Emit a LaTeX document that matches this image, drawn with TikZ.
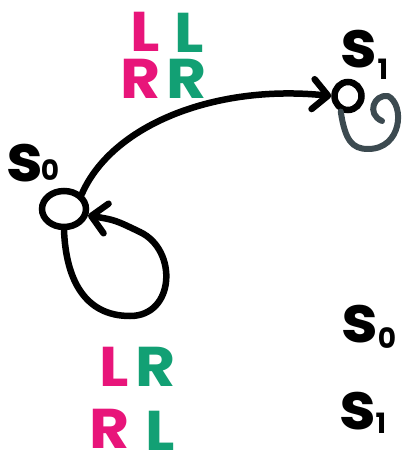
\documentclass[tikz,border=0pt]{standalone}
\usepackage{fontspec}
\setmainfont{Poppins}
\usetikzlibrary{arrows.meta,shapes.geometric}
\definecolor{pinkmk}{HTML}{E8157A}
\definecolor{greenmk}{HTML}{12A074}
\definecolor{greyink}{HTML}{3C4A50}
\begin{document}
\begin{tikzpicture}[x=1pt,y=-1pt,
  ink/.style={line width=6.5pt, line cap=round, line join=round, black},
  barb/.style={-{Straight Barb[length=15pt,width=30pt,round]}},
  letter/.style={font=\fontsize{56}{56}\selectfont\bfseries, inner sep=0pt, xscale=1.1},
  lab/.style={font=\fontsize{66}{66}\selectfont\bfseries, inner sep=0pt},
  sub/.style={font=\fontsize{28}{28}\selectfont\bfseries, inner sep=0pt},
  state/.style={draw, ellipse, line width=6.5pt, inner sep=0pt}]
\useasboundingbox (0,0) rectangle (402,465);
\fill[white] (0,0) rectangle (402,465);

% input pairs on the s0 -> s1 transition
\node[letter, pinkmk]  (tl1) at (145,32) {L};
\node[letter, greenmk] (tl2) at (189,33) {L};
\node[letter, pinkmk]  (tr1) at (141,79) {R};
\node[letter, greenmk] (tr2) at (187,79) {R};

% input pairs on the s0 self-loop
\node[letter, pinkmk]  (bl1) at (114,367) {L};
\node[letter, greenmk] (bl2) at (156,367) {R};
\node[letter, pinkmk]  (br1) at (110,429) {R};
\node[letter, greenmk] (br2) at (160,431) {L};

% states
\node[state, minimum width=44pt, minimum height=36pt] (s0) at (64,209) {};
\node[state, minimum width=27pt, minimum height=28pt] (s1) at (348,96) {};

% state labels
\node[lab] (s0l) at (25,163) {s};
\node[sub] (s0n) at (50,170) {0};
\node[lab] (s1l) at (359,49) {s};
\node[sub] (s1n) at (383,69) {1};

% output column
\node[lab] (o0l) at (360,324) {s};
\node[sub] (o0n) at (387,338) {0};
\node[lab] (o1l) at (358,411) {s};
\node[sub] (o1n) at (381,423) {1};

% transition s0 -> s1
\draw[ink, barb] (s0.north east) .. controls (112,125) and (215,84) .. (s1.west);

% self-loop on s0
\coordinate (l0a) at (130,316);
\coordinate (l0b) at (140,232);
\draw[ink, barb] (s0.south) .. controls (66,280) and (85,316) .. (l0a)
  .. controls (175,316) and (178,250) .. (l0b)
  .. controls (115,220) .. (s0.-15);

% self-loop on s1, closed by a small hook
\coordinate (l1a) at (368,149);
\coordinate (l1b) at (388,96);
\draw[line width=6pt, line cap=round, line join=round, greyink]
  (s1.-115) .. controls (345,140) and (352,149) .. (l1a)
  .. controls (402,149) and (405,105) .. (l1b)
  .. controls (374,94) and (366,114) .. (382,121);
\end{tikzpicture}
\end{document}
